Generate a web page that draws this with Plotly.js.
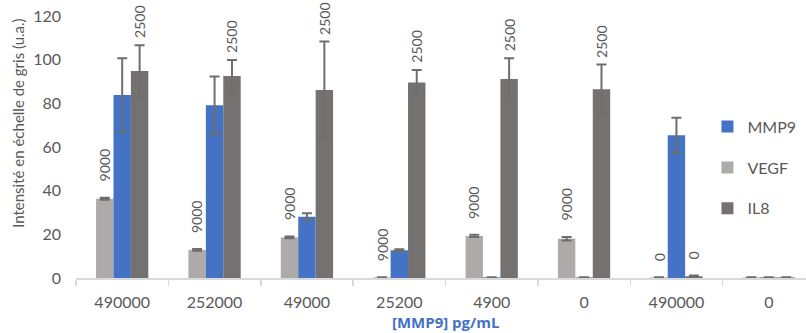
<!DOCTYPE html>
<html>
<head>
<meta charset="utf-8">
<script src="https://cdn.plot.ly/plotly-3.0.1.min.js"></script>
<style>
  html, body { margin: 0; padding: 0; background: #ffffff; overflow: hidden; }
  #chart { width: 806px; height: 333px; }
</style>
</head>
<body>
<div id="chart"></div>
<script>
// ---- Data ----
const categories = ['490000', '252000', '49000', '25200', '4900', '0', '490000', '0'];

const vegf     = [36.3, 12.9, 18.6, 0.3, 19.3, 18.0, 0.3, 0.3];
const vegfErr  = [0.5, 0.4, 0.4, 0, 0.5, 0.8, 0, 0];
const mmp9     = [83.8, 79.1, 28.0, 12.7, 0.3, 0.3, 65.4, 0.3];
const mmp9Err  = [16.8, 13.2, 1.6, 0.5, 0, 0, 8.0, 0];
const il8      = [94.8, 92.5, 86.1, 89.5, 91.2, 86.4, 0.8, 0.3];
const il8Err   = [11.8, 7.4, 22.2, 5.8, 9.5, 11.4, 0.3, 0];

const vegfLabels = ['9000', '9000', '9000', '9000', '9000', '9000', '0', ''];
const il8Labels  = ['2500', '2500', '2500', '2500', '2500', '2500', '0', ''];

const yTickVals = [0, 20, 40, 60, 80, 100, 120];

// ---- Styling ----
const FONT = 'Lato, "Open Sans", sans-serif';
const TXT = '#595959';
const ERRC = '#6E6E6E';
const colors = { MMP9: '#4472C4', VEGF: '#AEAAAA', IL8: '#767171' };
const BARGAP = 0.434;
const barW = (1 - BARGAP) / 3;

const xIdx = categories.map((_, i) => i);

function errBar(arr) {
  return { type: 'data', array: arr, visible: true, color: ERRC, thickness: 2, width: 5 };
}

const traces = [
  { type: 'bar', name: 'VEGF', x: xIdx, y: vegf, error_y: errBar(vegfErr),
    marker: { color: colors.VEGF }, legendrank: 2, legendgroup: 'b' },
  { type: 'bar', name: 'MMP9', x: xIdx, y: mmp9, error_y: errBar(mmp9Err),
    marker: { color: colors.MMP9 }, legendrank: 1, legendgroup: 'a' },
  { type: 'bar', name: 'IL8', x: xIdx, y: il8, error_y: errBar(il8Err),
    marker: { color: colors.IL8 }, legendrank: 3, legendgroup: 'c' }
];

const annotations = [];
vegfLabels.forEach((t, i) => {
  if (!t) return;
  annotations.push({ x: i - barW, y: vegf[i] + vegfErr[i], xref: 'x', yref: 'y',
    text: t, showarrow: false, textangle: -90, xanchor: 'center', yanchor: 'bottom',
    yshift: 14, font: { family: FONT, size: 14, color: TXT } });
});
il8Labels.forEach((t, i) => {
  if (!t) return;
  annotations.push({ x: i + barW, y: il8[i] + il8Err[i], xref: 'x', yref: 'y',
    text: t, showarrow: false, textangle: -90, xanchor: 'center', yanchor: 'bottom',
    yshift: (i === 6 ? 14 : 5), font: { family: FONT, size: 14, color: TXT } });
});
// x axis title (centred on the full category span)
annotations.push({ x: (categories.length - 1) / 2, y: 0, xref: 'x', yref: 'paper',
  text: '<b>[MMP9] pg/mL</b>', showarrow: false, xanchor: 'center', yanchor: 'middle',
  yshift: -44, borderpad: 0,
  font: { family: '"Open Sans", sans-serif', size: 15, color: '#4472C4', weight: 700 } });
// y axis title
annotations.push({ x: -0.0795, y: 0.592, xref: 'paper', yref: 'paper',
  text: 'Intensité en échelle de gris (u.a.)', showarrow: false, textangle: -90,
  xanchor: 'center', yanchor: 'middle', font: { family: FONT, size: 15, color: TXT } });

const boundaries = [];
for (let i = 0; i <= categories.length; i++) boundaries.push(i - 0.5);

const layout = {
  width: 806, height: 333,
  margin: { l: 76, r: 0, t: 16, b: 55 },
  paper_bgcolor: '#ffffff', plot_bgcolor: '#ffffff',
  font: { family: FONT, size: 16, color: TXT },
  barmode: 'group', bargap: BARGAP, bargroupgap: 0,
  showlegend: true,
  legend: { x: 0.865, y: 0.421, xanchor: 'left', yanchor: 'middle',
    traceorder: 'grouped', tracegroupgap: 17, itemwidth: 30,
    font: { family: FONT, size: 16, color: TXT }, bgcolor: 'rgba(0,0,0,0)' },
  xaxis: {
    type: 'linear', range: [-0.5, -0.5 + 730 / 92.375],
    tickmode: 'array', tickvals: xIdx, ticktext: categories,
    ticks: '', showgrid: false, zeroline: false,
    showline: true, linecolor: '#D9D9D9', linewidth: 1.5,
    ticklabelstandoff: 9,
    tickfont: { family: FONT, size: 16, color: TXT },
    minor: { tickmode: 'array', tickvals: boundaries, ticks: 'outside', ticklen: 6,
      tickcolor: '#D9D9D9', tickwidth: 1.5, showgrid: false },
    fixedrange: true
  },
  yaxis: {
    range: [0, 120], tickmode: 'array', tickvals: yTickVals,
    showgrid: false, zeroline: false, showline: false, ticks: '',
    ticklabelstandoff: 14,
    tickfont: { family: FONT, size: 16, color: TXT },
    fixedrange: true
  },
  annotations: annotations
};

Plotly.newPlot('chart', traces, layout, { displayModeBar: false, staticPlot: true });
</script>
</body>
</html>
